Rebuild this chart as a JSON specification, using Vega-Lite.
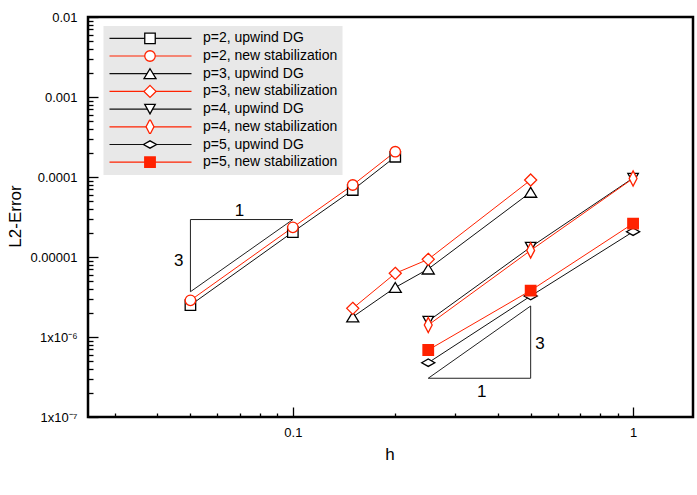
{
  "$schema": "https://vega.github.io/schema/vega-lite/v6.json",
  "width": 605,
  "height": 400,
  "autosize": "none",
  "padding": {"left": 88, "top": 17, "right": 4, "bottom": 78},
  "background": "white",
  "config": {
    "view": {"stroke": "black", "strokeWidth": 2.5},
    "font": "Liberation Sans"
  },
  "datasets": {
    "pts": [
      {"s": "p=2, upwind DG", "h": 0.05, "e": 2.5e-6},
      {"s": "p=2, upwind DG", "h": 0.1, "e": 2.05e-5},
      {"s": "p=2, upwind DG", "h": 0.15, "e": 6.88e-5},
      {"s": "p=2, upwind DG", "h": 0.2, "e": 1.79e-4},
      {"s": "p=2, new stabilization", "h": 0.05, "e": 2.87e-6},
      {"s": "p=2, new stabilization", "h": 0.1, "e": 2.35e-5},
      {"s": "p=2, new stabilization", "h": 0.15, "e": 7.94e-5},
      {"s": "p=2, new stabilization", "h": 0.2, "e": 2.07e-4},
      {"s": "p=3, upwind DG", "h": 0.15, "e": 1.78e-6},
      {"s": "p=3, upwind DG", "h": 0.2, "e": 4.16e-6},
      {"s": "p=3, upwind DG", "h": 0.25, "e": 7.08e-6},
      {"s": "p=3, upwind DG", "h": 0.5, "e": 6.44e-5},
      {"s": "p=3, new stabilization", "h": 0.15, "e": 2.28e-6},
      {"s": "p=3, new stabilization", "h": 0.2, "e": 6.25e-6},
      {"s": "p=3, new stabilization", "h": 0.25, "e": 9.35e-6},
      {"s": "p=3, new stabilization", "h": 0.5, "e": 9.17e-5},
      {"s": "p=4, upwind DG", "h": 0.25, "e": 1.58e-6},
      {"s": "p=4, upwind DG", "h": 0.5, "e": 1.33e-5},
      {"s": "p=4, upwind DG", "h": 1, "e": 9.7e-5},
      {"s": "p=4, new stabilization", "h": 0.25, "e": 1.41e-6},
      {"s": "p=4, new stabilization", "h": 0.5, "e": 1.21e-5},
      {"s": "p=4, new stabilization", "h": 1, "e": 9.58e-5},
      {"s": "p=5, upwind DG", "h": 0.25, "e": 4.77e-7},
      {"s": "p=5, upwind DG", "h": 0.5, "e": 3.25e-6},
      {"s": "p=5, upwind DG", "h": 1, "e": 2.07e-5},
      {"s": "p=5, new stabilization", "h": 0.25, "e": 6.88e-7},
      {"s": "p=5, new stabilization", "h": 0.5, "e": 3.81e-6},
      {"s": "p=5, new stabilization", "h": 1, "e": 2.62e-5}
    ],
    "tri": [
      {"tri": "a", "k": 0, "h": 0.05, "e": 3.68e-6},
      {"tri": "a", "k": 1, "h": 0.05, "e": 2.94e-5},
      {"tri": "a", "k": 2, "h": 0.1, "e": 2.94e-5},
      {"tri": "a", "k": 3, "h": 0.05, "e": 3.68e-6},
      {"tri": "b", "k": 0, "h": 0.25, "e": 3.05e-7},
      {"tri": "b", "k": 1, "h": 0.5, "e": 3.05e-7},
      {"tri": "b", "k": 2, "h": 0.5, "e": 2.44e-6},
      {"tri": "b", "k": 3, "h": 0.25, "e": 3.05e-7}
    ],
    "txt": [
      {"t": "1", "h": 0.0697, "e": 3.76e-5},
      {"t": "3", "h": 0.0462, "e": 8.99e-6},
      {"t": "3", "h": 0.533, "e": 8.24e-7},
      {"t": "1", "h": 0.359, "e": 2.05e-7}
    ]
  },
  "layer": [
    {
      "data": {"name": "pts"},
      "mark": {"type": "line", "strokeWidth": 1},
      "encoding": {
        "x": {
          "field": "h", "type": "quantitative",
          "scale": {"type": "log", "domain": [0.025, 1.5], "nice": false},
          "axis": {
            "values": [0.03, 0.04, 0.05, 0.06, 0.07, 0.08, 0.09, 0.1, 0.2, 0.3, 0.4, 0.5, 0.6, 0.7, 0.8, 0.9, 1],
            "labelExpr": "datum.value == 0.1 ? '0.1' : datum.value == 1 ? '1' : ''",
            "tickSize": {"condition": {"test": "datum.value == 0.1 || datum.value == 1", "value": -10}, "value": -4},
            "tickColor": "black",
            "tickWidth": 1.3,
            "domain": false,
            "grid": false,
            "labelPadding": 19,
            "labelFontSize": 13,
            "labelColor": "black",
            "labelOverlap": false,
            "labelFlush": false,
            "title": "h",
            "titleFontSize": 17,
            "titleFontWeight": "normal",
            "titleColor": "black",
            "titleX": 301.5,
            "titleY": 42,
            "titleBaseline": "alphabetic"
          }
        },
        "y": {
          "field": "e", "type": "quantitative",
          "scale": {"type": "log", "domain": [1e-7, 0.01], "nice": false},
          "axis": {
            "values": [1e-7, 2e-7, 3e-7, 4e-7, 5e-7, 6e-7, 7e-7, 8e-7, 9e-7,
                       0.000001, 2e-6, 3e-6, 4e-6, 5e-6, 6e-6, 7e-6, 8e-6, 9e-6,
                       0.00001, 2e-5, 3e-5, 4e-5, 5e-5, 6e-5, 7e-5, 8e-5, 9e-5,
                       0.0001, 0.0002, 0.0003, 0.0004, 0.0005, 0.0006, 0.0007, 0.0008, 0.0009,
                       0.001, 0.002, 0.003, 0.004, 0.005, 0.006, 0.007, 0.008, 0.009, 0.01],
            "labelExpr": "datum.value == 0.01 ? '0.01' : datum.value == 0.001 ? '0.001' : datum.value == 0.0001 ? '0.0001' : datum.value == 0.00001 ? '0.00001' : datum.value == 0.000001 ? '1x10⁻⁶' : datum.value == 1e-7 ? '1x10⁻⁷' : ''",
            "tickSize": {"condition": {"test": "datum.value == 0.01 || datum.value == 0.001 || datum.value == 0.0001 || datum.value == 0.00001 || datum.value == 0.000001 || datum.value == 1e-7", "value": -10}, "value": -5},
            "tickColor": "black",
            "tickWidth": 1.3,
            "domain": false,
            "grid": false,
            "labelPadding": 21,
            "labelFontSize": 13,
            "labelColor": "black",
            "labelOverlap": false,
            "labelFlush": false,
            "title": "L2-Error",
            "titleFontSize": 17,
            "titleFontWeight": "normal",
            "titleColor": "black",
            "titleX": -73,
            "titleY": 199,
            "titleAlign": "center",
            "titleBaseline": "middle"
          }
        },
        "color": {
          "field": "s", "type": "nominal",
          "scale": {
            "domain": ["p=2, upwind DG", "p=2, new stabilization", "p=3, upwind DG", "p=3, new stabilization", "p=4, upwind DG", "p=4, new stabilization", "p=5, upwind DG", "p=5, new stabilization", "zz"],
            "range": ["#111111", "#ff2200", "#111111", "#ff2200", "#111111", "#ff2200", "#111111", "#ff2200", "#111111"]
          },
          "legend": {
            "values": ["p=2, upwind DG", "p=2, new stabilization", "p=3, upwind DG", "p=3, new stabilization", "p=4, upwind DG", "p=4, new stabilization", "p=5, upwind DG", "p=5, new stabilization"],
            "orient": "none",
            "legendX": 15.5,
            "legendY": 9,
            "padding": 5,
            "fillColor": "#e8e8e8",
            "strokeColor": null,
            "title": null,
            "symbolType": "stroke",
            "symbolSize": 6724,
            "symbolStrokeWidth": 1.2,
            "clipHeight": 14.6,
            "rowPadding": 2.7,
            "labelFontSize": 14,
            "labelColor": "black",
            "labelOffset": 10.5,
            "labelLimit": 400
          }
        }
      }
    },
    {
      "data": {"name": "tri"},
      "mark": {"type": "line", "color": "#222222", "strokeWidth": 1},
      "encoding": {
        "x": {"field": "h", "type": "quantitative", "scale": {"type": "log", "domain": [0.025, 1.5], "nice": false}},
        "y": {"field": "e", "type": "quantitative", "scale": {"type": "log", "domain": [1e-7, 0.01], "nice": false}},
        "detail": {"field": "tri", "type": "nominal"},
        "order": {"field": "k", "type": "quantitative"}
      }
    },
    {
      "data": {"name": "txt"},
      "mark": {"type": "text", "fontSize": 17, "font": "Liberation Sans", "align": "center", "baseline": "middle", "color": "black"},
      "encoding": {
        "x": {"field": "h", "type": "quantitative", "scale": {"type": "log", "domain": [0.025, 1.5], "nice": false}},
        "y": {"field": "e", "type": "quantitative", "scale": {"type": "log", "domain": [1e-7, 0.01], "nice": false}},
        "text": {"field": "t", "type": "nominal"}
      }
    },
    {
      "data": {"name": "pts"},
      "mark": {"type": "point", "size": 110, "opacity": 1, "strokeWidth": 1.3, "filled": true},
      "encoding": {
        "x": {"field": "h", "type": "quantitative", "scale": {"type": "log", "domain": [0.025, 1.5], "nice": false}},
        "y": {"field": "e", "type": "quantitative", "scale": {"type": "log", "domain": [1e-7, 0.01], "nice": false}},
        "shape": {
          "field": "s", "type": "nominal",
          "scale": {
            "domain": ["p=2, upwind DG", "p=2, new stabilization", "p=3, upwind DG", "p=3, new stabilization", "p=4, upwind DG", "p=4, new stabilization", "p=5, upwind DG", "p=5, new stabilization"],
            "range": ["square", "circle", "M0,-0.95L1.15,0.95L-1.15,0.95Z", "M0,-1.15L1.15,0L0,1.15L-1.15,0Z", "M-1,-0.9L1,-0.9L0,0.9Z", "M0,-1.45L0.75,0L0,1.45L-0.75,0Z", "M-1.25,0L0,-0.7L1.25,0L0,0.7Z", "square"]
          },
          "legend": {
            "orient": "none", "legendX": 50, "legendY": 9, "padding": 5, "title": null,
            "symbolSize": 110, "symbolStrokeWidth": 1.3, "symbolOpacity": 1,
            "clipHeight": 14.6, "rowPadding": 2.7, "labelFontSize": 14, "labelExpr": "''"
          }
        },
        "stroke": {
          "field": "s", "type": "nominal",
          "scale": {
            "domain": ["p=2, upwind DG", "p=2, new stabilization", "p=3, upwind DG", "p=3, new stabilization", "p=4, upwind DG", "p=4, new stabilization", "p=5, upwind DG", "p=5, new stabilization"],
            "range": ["#000000", "#ff2200", "#000000", "#ff2200", "#000000", "#ff2200", "#000000", "#ff2200"]
          },
          "legend": {
            "orient": "none", "legendX": 50, "legendY": 9, "padding": 5, "title": null,
            "symbolSize": 110, "symbolStrokeWidth": 1.3, "symbolOpacity": 1,
            "clipHeight": 14.6, "rowPadding": 2.7, "labelFontSize": 14, "labelExpr": "''"
          }
        },
        "fill": {
          "field": "s", "type": "nominal",
          "scale": {
            "domain": ["p=2, upwind DG", "p=2, new stabilization", "p=3, upwind DG", "p=3, new stabilization", "p=4, upwind DG", "p=4, new stabilization", "p=5, upwind DG", "p=5, new stabilization"],
            "range": ["#ffffff", "#ffffff", "#ffffff", "#ffffff", "#ffffff", "#ffffff", "#ffffff", "#ff2200"]
          },
          "legend": {
            "orient": "none", "legendX": 50, "legendY": 9, "padding": 5, "title": null,
            "symbolSize": 110, "symbolStrokeWidth": 1.3, "symbolOpacity": 1,
            "clipHeight": 14.6, "rowPadding": 2.7, "labelFontSize": 14, "labelExpr": "''"
          }
        }
      }
    }
  ]
}
